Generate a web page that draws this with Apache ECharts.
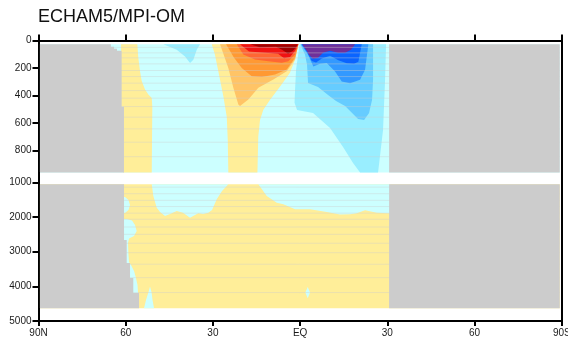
<!DOCTYPE html>
<html><head><meta charset="utf-8">
<script src="https://cdn.jsdelivr.net/npm/echarts@6/dist/echarts.min.js"></script>
<style>html,body{margin:0;padding:0;background:#fff}#c{width:568px;height:339px}</style>
</head><body><div id="c"></div>
<script>
// ===== DATA: latitude (deg, N positive), depth (m) =====
const xTickValues = [90, 60, 30, 0, -30, -60, -90];
const xTickLabels = ['90N', '60', '30', 'EQ', '30', '60', '90S'];
const yTicksUpper = [0, 200, 400, 600, 800];
const yTicksLower = [1000, 2000, 3000, 4000, 5000];

const latN = 89.5, latS = -89.3;
const upperTop = 28, upperBottom = 958, lowerTop = 1058, lowerBottom = 4630;

// model-level stripes
const upperStripes = [50, 90, 126, 170, 218, 262, 310, 364, 419, 480, 557, 642, 739, 844];
const lowerStripes = [1140, 1330, 1520, 1700, 1890, 2066, 2290, 2500, 2758, 3030, 3363, 3750, 4180];

// ---- upper panel (0-1000 m) contour regions ----
const upperBase = [[latN, upperTop], [latS, upperTop], [latS, upperBottom], [latN, upperBottom]];
const upperYellowN = [[61.6, 28], [56.0, 28], [55.67, 126], [55.08, 223], [54.5, 295], [53.36, 356], [52.22, 393], [51.05, 417], [50.85, 482], [51.05, 958], [60.9, 958], [60.9, 482], [61.6, 482]];
const upperSkyN = [[47.06, 28], [42.45, 68], [39.6, 116], [37.88, 164], [36.74, 140], [35.57, 68], [34.44, 28]];
const upperYellowC = [[30.4, 28], [29.3, 104], [28.25, 213], [26.4, 407], [25.25, 553], [24.9, 722], [24.7, 958], [14.7, 958], [14.4, 698], [13.8, 577], [12.7, 504], [10.35, 431], [6.9, 335], [3.5, 235], [1.75, 140], [0.6, 28]];
const upperPos2 = [[27.56, 28], [24.7, 199], [22.98, 344], [21.26, 465], [20.68, 475], [17.82, 429], [14.38, 344], [9.22, 284], [4.61, 223], [1.75, 138], [0.6, 28]];
const upperPos3 = [[25.49, 28], [22.74, 126], [20.09, 199], [16.65, 259], [13.21, 266], [8.63, 247], [4.61, 211], [1.75, 126], [0.6, 28]];
const upperPos4 = [[21.81, 28], [19.54, 102], [15.52, 138], [10.94, 150], [6.33, 162], [4.06, 150], [1.75, 102], [0.6, 28]];
const upperPos5 = [[20.68, 28], [17.58, 79], [12.07, 89], [7.6, 97], [5.54, 129], [3.47, 119], [1.75, 75], [0.6, 28]];
const upperPos6 = [[17.24, 28], [13.8, 49], [8.29, 46], [6.23, 68], [4.16, 97], [2.44, 75], [1.07, 39], [0.8, 28]];
const upperNeg1 = [[0.2, 28], [1.41, 213], [1.75, 359], [1.93, 453], [1.07, 504], [-4.44, 526], [-10.29, 635], [-14.76, 773], [-18.2, 889], [-20.61, 958], [-26.8, 958], [-28.52, 649], [-29.21, 286], [-29.55, 28]];
const upperNeg2 = [[-0.1, 28], [-1.69, 104], [-2.37, 177], [-2.72, 308], [-6.16, 337], [-9.6, 395], [-12.35, 439], [-15.45, 475], [-17.86, 526], [-19.92, 570], [-21.99, 577], [-23.7, 526], [-24.74, 431], [-25.08, 286], [-25.08, 28]];
const upperNeg3 = [[-0.3, 28], [-2.72, 104], [-4.54, 189], [-6.85, 169], [-9.15, 164], [-12.01, 225], [-14.31, 298], [-17.17, 310], [-20.61, 286], [-22.33, 213], [-23.46, 28]];
const upperNeg4 = [[-0.5, 28], [-2.3, 82], [-3.99, 148], [-5.47, 159], [-7.43, 130], [-10.29, 111], [-13.14, 144], [-16.03, 166], [-18.54, 169], [-20.02, 155], [-21.19, 28]];
const upperNeg5 = [[-0.7, 28], [-2.5, 82], [-3.0, 104], [-4.44, 133], [-6.16, 126], [-7.9, 89], [-10.29, 75], [-13.0, 89], [-15.45, 89], [-17.5, 68], [-18.9, 28]];
const upperLandN = [[latN, 28], [65.1, 28], [65.1, 46], [64.0, 46], [64.0, 60], [63.0, 60], [63.0, 75], [61.4, 75], [61.4, 482], [60.6, 482], [60.6, 958], [latN, 958]];
const upperLandS = [[-30.6, 28], [latS, 28], [latS, 958], [-30.6, 958]];

// ---- lower panel (1000-5000 m) ----
const lowerBase = [[latN, lowerTop], [latS, lowerTop], [latS, lowerBottom], [latN, lowerBottom]];
const lowerNegW = [[51.05, 1058], [50.5, 1395], [49.33, 1732], [48.2, 1856], [46.48, 1971], [44.76, 1914], [42.45, 1827], [40.29, 1876], [37.88, 2020], [36.16, 1942], [35.02, 1893], [33.41, 1914], [31.58, 1876], [30.31, 1798], [28.69, 1490], [26.87, 1251], [25.25, 1107], [24.7, 1058]];
const lowerNegE = [[14.38, 1058], [11.49, 1395], [8.05, 1588], [5.78, 1634], [1.75, 1778], [-3.41, 1778], [-9.15, 1856], [-13.73, 1928], [-17.17, 1922], [-19.47, 1893], [-22.33, 1807], [-26.35, 1876], [-30.35, 1893], [-31.0, 1893], [-31.0, 1058]];
const lowerNegA = [[62.0, 1424], [60.24, 1424], [59.04, 1510], [58.52, 1654], [59.04, 1798], [60.24, 1885], [62.0, 1885]];
const lowerNegB = [[62.0, 2058], [59.55, 2058], [57.83, 2101], [56.8, 2231], [56.22, 2403], [57.14, 2548], [58.86, 2620], [59.21, 2749], [59.04, 3095], [58.86, 3297], [58.18, 3384], [57.14, 3557], [56.46, 3758], [55.94, 3960], [55.77, 4190], [62.0, 4190]];
const lowerNegC = [[53.7, 4630], [53.02, 4392], [52.16, 4162], [51.64, 4003], [51.12, 4162], [50.78, 4392], [50.26, 4630]];
const lowerNegD = [[-2.61, 4017], [-3.41, 4176], [-2.61, 4343], [-1.79, 4176]];
const lowerLandN = [[latN, 1058], [60.58, 1058], [60.58, 2663], [59.66, 2663], [59.66, 3326], [58.52, 3326], [58.52, 3758], [57.39, 3758], [57.39, 4190], [55.42, 4190], [55.42, 4630], [latN, 4630]];
const lowerLandS = [[-30.6, 1058], [latS, 1058], [latS, 4630], [-30.6, 4630]];

// ===== STYLE =====
const palette = {
  land: '#CCCCCC', c0: '#CCFFFF', n1: '#99EEFF', n2: '#66CCFF', n3: '#3399FF', n4: '#0A64FF', n5: '#70309A',
  p1: '#FFEE99', p2: '#FFC466', p3: '#FF9933', p4: '#FF6633', p5: '#F01212', p6: '#A00000'
};
const stripeColor = 'rgba(205,205,205,0.4)';
const FONT = '"Liberation Sans", Arial, Helvetica, sans-serif';

const upperItems = [
  {cls: 'c0', pts: upperBase}, {cls: 'p1', pts: upperYellowN}, {cls: 'n1', pts: upperSkyN},
  {cls: 'p1', pts: upperYellowC}, {cls: 'p2', pts: upperPos2}, {cls: 'p3', pts: upperPos3},
  {cls: 'p4', pts: upperPos4}, {cls: 'p5', pts: upperPos5}, {cls: 'p6', pts: upperPos6},
  {cls: 'n1', pts: upperNeg1}, {cls: 'n2', pts: upperNeg2}, {cls: 'n3', pts: upperNeg3},
  {cls: 'n4', pts: upperNeg4}, {cls: 'n5', pts: upperNeg5}
].concat(upperStripes.map(d => ({stripe: d}))).concat([
  {cls: 'land', pts: upperLandN}, {cls: 'land', pts: upperLandS}
]);
const lowerItems = [
  {cls: 'p1', pts: lowerBase}, {cls: 'c0', pts: lowerNegW}, {cls: 'c0', pts: lowerNegE},
  {cls: 'c0', pts: lowerNegA}, {cls: 'c0', pts: lowerNegB}, {cls: 'c0', pts: lowerNegC}, {cls: 'c0', pts: lowerNegD}
].concat(lowerStripes.map(d => ({stripe: d}))).concat([
  {cls: 'land', pts: lowerLandN}, {cls: 'land', pts: lowerLandS}
]);

function makeSeries(items, xi, yi, yRef) {
  return {
    type: 'custom', xAxisIndex: xi, yAxisIndex: yi, silent: true, animation: false,
    data: items.map(() => [0, yRef]),
    renderItem: function (params, api) {
      const it = items[params.dataIndex];
      if (it.stripe !== undefined) {
        const a = api.coord([latN, it.stripe]), b = api.coord([latS, it.stripe]);
        return {type: 'line', shape: {x1: a[0], y1: a[1], x2: b[0], y2: b[1]}, style: {stroke: stripeColor, lineWidth: 1}};
      }
      return {type: 'polygon', shape: {points: it.pts.map(p => api.coord(p))}, style: {fill: palette[it.cls]}};
    }
  };
}

const axisLineStyle = {color: '#000', width: 2};
const labelStyle = {fontFamily: FONT, fontSize: 10, color: '#1a1a1a'};
const xFmt = v => { const i = xTickValues.indexOf(v); return i >= 0 ? xTickLabels[i] : ''; };
const yFmt = v => String(v);

const chart = echarts.init(document.getElementById('c'), null, {renderer: 'canvas'});
chart.setOption({
  animation: false,
  backgroundColor: '#fff',
  title: {text: 'ECHAM5/MPI-OM', left: 38, top: 8, padding: 0,
    textStyle: {fontFamily: FONT, fontSize: 18, fontWeight: 'normal', color: '#111'}},
  grid: [
    {left: 38.5, top: 40.5, width: 523.3, height: 141.8, outerBoundsMode: 'none', containLabel: false},
    {left: 38.5, top: 182.3, width: 523.3, height: 138.7, outerBoundsMode: 'none', containLabel: false}
  ],
  xAxis: [
    {gridIndex: 0, type: 'value', position: 'top', min: -90, max: 90, interval: 30, inverse: true,
      axisLine: {show: true, onZero: false, lineStyle: axisLineStyle},
      axisTick: {show: true, inside: false, length: 6, lineStyle: axisLineStyle},
      axisLabel: {show: false}, splitLine: {show: false}},
    {gridIndex: 1, type: 'value', position: 'bottom', min: -90, max: 90, interval: 30, inverse: true,
      axisLine: {show: true, onZero: false, lineStyle: axisLineStyle},
      axisTick: {show: true, inside: false, length: 5, lineStyle: axisLineStyle},
      axisLabel: Object.assign({show: true, margin: 7, formatter: xFmt}, labelStyle),
      splitLine: {show: false}}
  ],
  yAxis: [
    {gridIndex: 0, type: 'value', position: 'left', inverse: true, min: 0, max: 1030,
      axisLine: {show: true, onZero: false, lineStyle: axisLineStyle},
      axisTick: {show: true, inside: false, length: 6, lineStyle: axisLineStyle, customValues: yTicksUpper},
      axisLabel: Object.assign({show: true, margin: 7, customValues: yTicksUpper, formatter: yFmt}, labelStyle),
      splitLine: {show: false}},
    {gridIndex: 0, type: 'value', position: 'right', inverse: true, min: 0, max: 1030,
      axisLine: {show: true, onZero: false, lineStyle: axisLineStyle},
      axisTick: {show: false}, axisLabel: {show: false}, splitLine: {show: false}},
    {gridIndex: 1, type: 'value', position: 'left', inverse: true, min: 1000, max: 5000, interval: 1000,
      axisLine: {show: true, onZero: false, lineStyle: axisLineStyle},
      axisTick: {show: true, inside: false, length: 6, lineStyle: axisLineStyle, customValues: yTicksLower},
      axisLabel: Object.assign({show: true, margin: 7, customValues: yTicksLower, formatter: yFmt}, labelStyle),
      splitLine: {show: false}},
    {gridIndex: 1, type: 'value', position: 'right', inverse: true, min: 1000, max: 5000, interval: 1000,
      axisLine: {show: true, onZero: false, lineStyle: axisLineStyle},
      axisTick: {show: false}, axisLabel: {show: false}, splitLine: {show: false}}
  ],
  series: [
    makeSeries(upperItems, 0, 0, 500),
    makeSeries(lowerItems, 1, 2, 3000)
  ]
});
</script>
</body></html>
